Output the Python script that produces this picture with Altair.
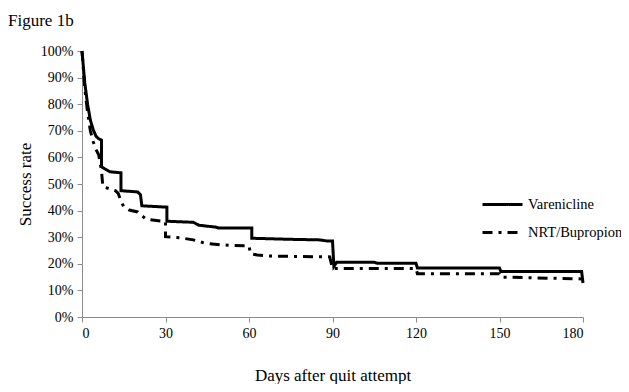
import altair as alt
import pandas as pd

series_names = ["Varenicline", "NRT/Bupropion"]

var_days = [0, 1, 2, 3, 4, 5, 6, 7, 7, 8, 10, 14, 14, 20, 21, 21.5, 30.5, 30.5, 40, 42, 48, 49, 61, 61,
            75, 85, 88, 90, 90.5, 91.5, 105, 106, 120, 120.5, 150, 150.5, 179.5, 180]
var_rates = [100, 88, 80, 74, 70.5, 68, 67, 66.5, 56.5, 55.8, 54.6, 54.2, 47.5, 47, 46, 41.8, 41.3, 36, 35.6, 34.5,
             33.8, 33.5, 33.5, 29.6, 29.2, 29, 28.6, 28.6, 19, 20.6, 20.6, 20.2, 20.2, 18.4, 18.4, 17.1, 17.1, 12.8]

nrt_days = [0, 1, 2, 3, 4, 5, 6, 7, 7.5, 12, 13, 14, 15, 17, 20, 21, 23, 30, 30, 35, 40, 44, 50, 60, 60.5,
            63, 68, 89, 90, 120, 120.5, 150, 150.5, 180]
nrt_rates = [100, 86, 77, 70, 66, 63, 61, 55, 49, 47.5, 46.5, 43.5, 41.5, 40.2, 39.5, 38.5, 36.8, 35.8, 30.2,
             29.8, 29, 27.8, 27.1, 26.7, 23.8, 23.3, 22.9, 22.6, 18.2, 18.2, 16.3, 16.3, 15, 14.3]

x_ticks = [0, 30, 60, 90, 120, 150, 180]
y_ticks = [0, 0.1, 0.2, 0.3, 0.4, 0.5, 0.6, 0.7, 0.8, 0.9, 1.0]

rows = []
for name, days, rates in [(series_names[0], var_days, var_rates), (series_names[1], nrt_days, nrt_rates)]:
    for i, (d, r) in enumerate(zip(days, rates)):
        rows.append({"series": name, "day": d, "rate": r / 100.0, "order": i})
df = pd.DataFrame(rows)

FONT = "Liberation Serif"
AXIS_GREY = "#8c8c8c"

chart = alt.Chart(df).mark_line(strokeWidth=3, color="black", strokeCap="butt", interpolate="linear").encode(
    x=alt.X("day:Q",
            scale=alt.Scale(domain=[0, 180], nice=False),
            axis=alt.Axis(values=x_ticks, title="Days after quit attempt", grid=False,
                          domainColor=AXIS_GREY, tickColor=AXIS_GREY, tickSize=5,
                          labelFont=FONT, labelFontSize=14, labelColor="black", labelPadding=4,
                          titleFont=FONT, titleFontSize=17, titleFontWeight="normal",
                          titleColor="black", titlePadding=27)),
    y=alt.Y("rate:Q",
            scale=alt.Scale(domain=[0, 1], nice=False),
            axis=alt.Axis(values=y_ticks, format=".0%", title="Success rate", grid=False,
                          domainColor=AXIS_GREY, tickColor=AXIS_GREY, tickSize=5,
                          labelFont=FONT, labelFontSize=14, labelColor="black", labelPadding=4,
                          titleFont=FONT, titleFontSize=17, titleFontWeight="normal",
                          titleColor="black", titlePadding=6)),
    strokeDash=alt.StrokeDash("series:N",
                              sort=series_names,
                              scale=alt.Scale(domain=series_names, range=[[1, 0], [10, 6, 3, 6]]),
                              legend=alt.Legend(title=None, orient="none", legendX=399, legendY=132,
                                                symbolType="stroke", symbolSize=1600, symbolStrokeWidth=3,
                                                symbolStrokeColor="black", labelFont=FONT, labelFontSize=14.5,
                                                labelColor="black", labelOffset=4, rowPadding=-15, padding=0)),
    order="order:Q",
).properties(
    width=501,
    height=266,
    title=alt.TitleParams("Figure 1b", font=FONT, fontSize=17, fontWeight="normal", color="black",
                          anchor="start", frame="group", dx=-74, offset=14),
    autosize=alt.AutoSizeParams(type="none"),
    padding={"left": 74, "top": 43, "right": 38, "bottom": 67},
).configure_view(stroke=None)

chart.save("out.html", embed_options={"renderer": "svg", "actions": False})
